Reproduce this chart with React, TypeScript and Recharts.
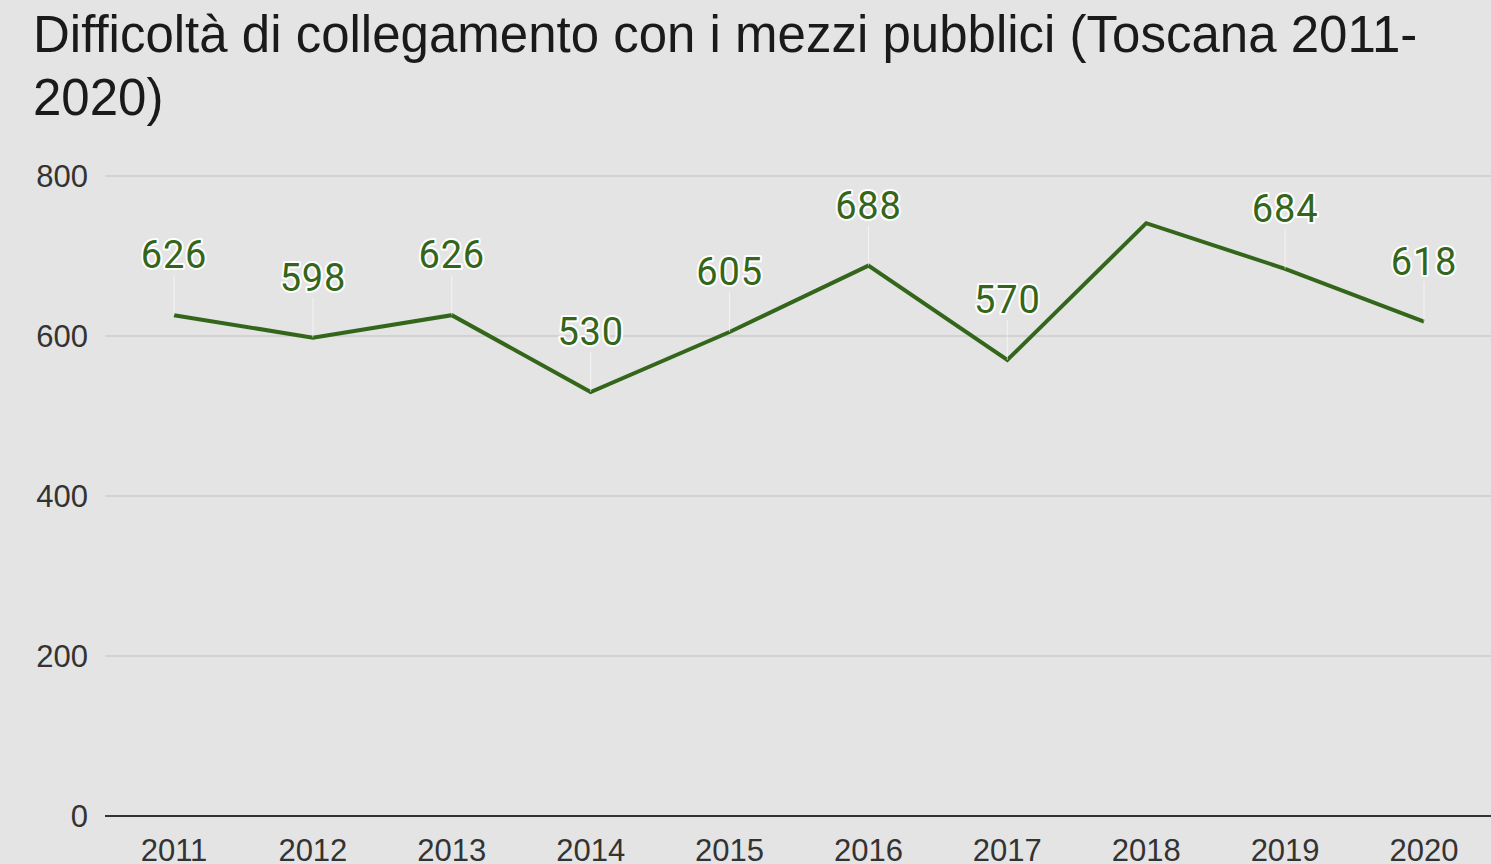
import { LineChart, Line, XAxis, YAxis, CartesianGrid, LabelList } from 'recharts'

const years = ['2011', '2012', '2013', '2014', '2015', '2016', '2017', '2018', '2019', '2020']
const values = [626, 598, 626, 530, 605, 688, 570, 741, 684, 618]
const hiddenLabels = ['2018']
const yTicks = [0, 200, 400, 600, 800]

const title = 'Difficoltà di collegamento con i mezzi pubblici (Toscana 2011-2020)'

const data = years.map((year, i) => ({ year, value: values[i] }))

const GREEN = '#33661b'
const BG = '#e4e4e4'
const FONT = '"Liberation Sans", Arial, sans-serif'

function PointLabel(props: any) {
  const { x, y, value, index } = props
  if (hiddenLabels.includes(years[index])) return null
  return (
    <g>
      <line x1={x} x2={x} y1={y} y2={y - 40} stroke="#ffffff" strokeOpacity={0.6} strokeWidth={1} />
      <text
        x={x}
        y={y - 47}
        textAnchor="middle"
        fontFamily="Roboto, sans-serif"
        fontSize={38}
        letterSpacing={0.8}
        fill={GREEN}
        stroke="#ffffff"
        strokeWidth={4}
        strokeLinejoin="round"
        paintOrder="stroke"
      >
        {value}
      </text>
    </g>
  )
}

export default function App() {
  return (
    <div style={{ position: 'fixed', left: 0, top: 0, width: 1491, height: 864, background: BG, overflow: 'hidden' }}>
      <div
        style={{
          position: 'absolute',
          left: 33,
          top: 3,
          width: 1450,
          fontFamily: FONT,
          fontSize: 51,
          lineHeight: '63px',
          color: '#1a1a1a',
        }}
      >
        {title}
      </div>
      <LineChart
        width={1491}
        height={864}
        data={data}
        margin={{ top: 176, right: 0, bottom: 0, left: 0 }}
        style={{ position: 'absolute', left: 0, top: 0 }}
      >
        <CartesianGrid vertical={false} stroke="#cccccc" strokeWidth={1.5} />
        <XAxis
          dataKey="year"
          height={48}
          padding={{ left: 69, right: 67 }}
          tickLine={false}
          axisLine={{ stroke: '#333333', strokeWidth: 2 }}
          tickMargin={17}
          tick={{ fontSize: 31, fill: '#333333', fontFamily: FONT }}
        />
        <YAxis
          width={105}
          domain={[0, 800]}
          ticks={yTicks}
          axisLine={false}
          tickLine={false}
          tickMargin={11}
          tick={{ fontSize: 31, fill: '#333333', fontFamily: FONT }}
        />
        <Line
          type="linear"
          dataKey="value"
          stroke={GREEN}
          strokeWidth={4}
          dot={false}
          activeDot={false}
          isAnimationActive={false}
        >
          <LabelList dataKey="value" content={<PointLabel />} />
        </Line>
      </LineChart>
    </div>
  )
}
